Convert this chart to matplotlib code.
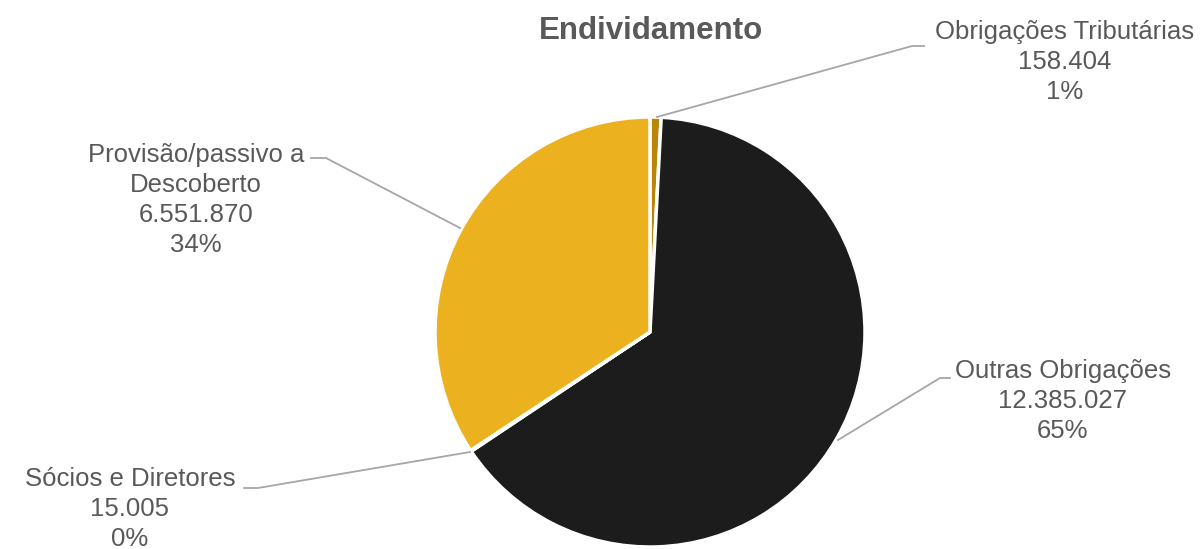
import matplotlib
matplotlib.use("Agg")
import matplotlib.pyplot as plt

plt.rcParams['font.family'] = ['Liberation Sans', 'DejaVu Sans']

categories = ["Obrigações Tributárias", "Outras Obrigações", "Sócios e Diretores", "Provisão/passivo a\nDescoberto"]
values = [158404, 12385027, 15005, 6551870]
value_labels = ["158.404", "12.385.027", "15.005", "6.551.870"]
pct_labels = ["1%", "65%", "0%", "34%"]
colors = ["#B8860B", "#1C1C1C", "#7F7F7F", "#EBB11E"]

W, H = 1204, 549
fig = plt.figure(figsize=(W / 100, H / 100), dpi=100)
ax = fig.add_axes([0, 0, 1, 1])

cx, cy, r = 650, H - 332, 215
ax.pie(values, colors=colors, startangle=90, counterclock=False,
       center=(cx, cy), radius=r, frame=True,
       wedgeprops=dict(edgecolor='white', linewidth=2.5))
ax.set_xlim(0, W)
ax.set_ylim(0, H)
ax.axis('off')

txt_color = '#595959'
line_color = '#A6A6A6'

def y(p):
    return H - p

# label block centers (pixel coords) and leader lines
label_pos = [(1065, 62), (1063, 401), (130, 509), (196, 200)]
leaders = [
    [(657, 117), (912, 46), (924, 46)],
    [(838, 440), (940, 378), (950, 378)],
    [(470, 452), (258, 488), (244, 488)],
    [(460, 228), (326, 158), (311, 158)],
]

for i, cat in enumerate(categories):
    text = f"{cat}\n{value_labels[i]}\n{pct_labels[i]}"
    lx, ly = label_pos[i]
    ax.text(lx, y(ly), text, ha='center', va='center', multialignment='center',
            fontsize=18.5, color=txt_color, linespacing=1.33)
    pts = leaders[i]
    ax.plot([p[0] for p in pts], [y(p[1]) for p in pts], color=line_color, lw=1.3)

ax.text(651, y(31), "Endividamento", ha='center', va='center', fontsize=22.5,
        fontweight='bold', color=txt_color)

fig.savefig("out.png", dpi=100)
